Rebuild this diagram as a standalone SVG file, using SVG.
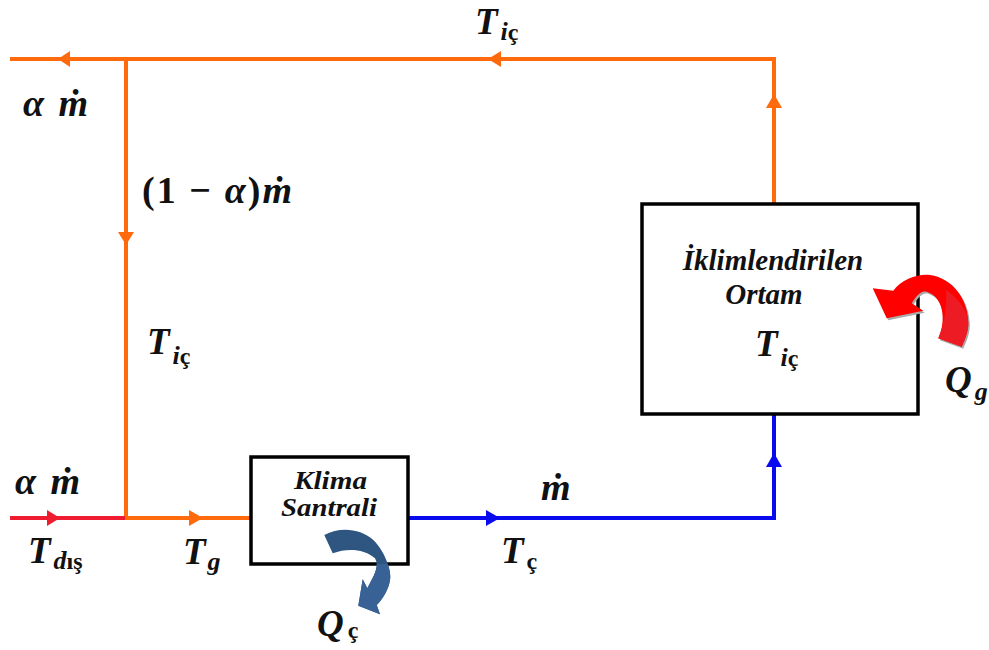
<svg xmlns="http://www.w3.org/2000/svg" width="989" height="650" viewBox="0 0 989 650">
<defs>
<clipPath id="below"><rect x="300" y="564" width="120" height="70"/></clipPath>
<path id="red" d="M872.7 288.3L893.3 290.7C901.7 278.3 920 273.3 930 275C953.3 278.3 968.3 300 968.3 323.3C968.3 331.7 965 340 961.7 346.7L938.3 338.3C946.7 320 943.3 296.7 926.7 291.7C920 290 915 298.3 911.7 303.3L923.3 310.7L886.7 318.3Z"/>
<path id="blue" d="M324.3 535C340 526.7 360 528.3 373.3 540C386.7 553.3 391.7 573.3 390 580C388.3 590 383.3 598.3 376.7 605L380 614.3L358.3 605.7L362.7 579.3L367.3 588.3C373.3 576.7 380 566.7 375 558.3C363.3 548.3 346.7 548.3 332.7 553.3Z"/>
</defs>
<style>
.c{fill:none;stroke-width:4}
.o{stroke:#ff6a0d}.r{stroke:#ee1c2e}.b{stroke:#0a0aee}
.box{fill:#fff;stroke:#000;stroke-width:3.5}
text{font-family:"Liberation Serif","DejaVu Serif",serif;font-weight:bold;font-style:italic;fill:#111}
.m{font-size:37px}.s{font-size:26px}.sn{font-size:24px;font-style:normal}
.l{font-size:29px}.l2{font-size:26px}.math{font-size:38px}
.up{font-style:normal}
</style>
<g id="connectors">
<path class="c o" d="M10 59H774V203"/>
<path class="c o" d="M126 59V518"/>
<path class="c r" d="M10 518H125"/>
<path class="c o" d="M125 518H250"/>
<path class="c b" d="M408 518H774V415"/>
<g fill="#ff6a0d">
<path d="M58 59L70 51V67Z"/>
<path d="M488 59L501 51V67Z"/>
<path d="M774 94L766 108H782Z"/>
<path d="M126 245L118 232H134Z"/>
<path d="M203 518L189 510V526Z"/>
</g>
<path d="M60 518L47 510V526Z" fill="#ee1c2e"/>
<path d="M500 518L486 510V526Z" fill="#0a0aee"/>
<path d="M774 453L766 467H782Z" fill="#0a0aee"/>
</g>
<g id="node-klima">
<rect class="box" x="251" y="457" width="157" height="107"/>
<text class="l2" x="294" y="489" textLength="73" lengthAdjust="spacingAndGlyphs">Klima</text>
<text class="l2" x="281" y="516" textLength="96" lengthAdjust="spacingAndGlyphs">Santrali</text>
</g>
<g id="node-ortam">
<rect class="box" x="642" y="204" width="276" height="210"/>
<text class="l" x="773" y="270" text-anchor="middle">İklimlendirilen</text>
<text class="l" x="764" y="304" text-anchor="middle">Ortam</text>
<text class="m" x="755" y="356">T<tspan class="s" dx="3" dy="10">i</tspan><tspan class="sn">ç</tspan></text>
</g>
<g id="arrow-qg">
<use href="#red" fill="#aaa" transform="translate(1.5 2)"/>
<use href="#red" fill="#ff0000"/>
<path d="M946 290C960 300 968.3 312 968.3 323.3C968.3 331.7 965 340 961.7 346.7L938.3 338.3C945 323 947 306 946 290Z" fill="#ed1c24"/>
</g>
<g id="arrow-qc">
<use href="#blue" fill="#2f5581"/>
<use href="#blue" fill="#386296" clip-path="url(#below)"/>
</g>
<g id="labels">
<text class="m" x="475" y="34">T<tspan class="s" dx="3" dy="6">i</tspan><tspan class="sn">ç</tspan></text>
<text class="m" x="147" y="354">T<tspan class="s" dx="3" dy="10">i</tspan><tspan class="sn">ç</tspan></text>
<text class="m" x="28" y="563">T<tspan class="s" dx="3" dy="6">d</tspan><tspan class="sn">ış</tspan></text>
<text class="m" x="183" y="564">T<tspan class="s" dx="2" dy="6">g</tspan></text>
<text class="m" x="501" y="563">T<tspan class="sn" dx="3" dy="6">ç</tspan></text>
<text class="m" x="317" y="636">Q<tspan class="sn" dx="4" dy="2">ç</tspan></text>
<text class="m" x="945" y="392">Q<tspan class="s" dx="3" dy="8">g</tspan></text>
<text class="math" x="23" y="116" textLength="65">α ṁ</text>
<text class="math" x="15" y="494" textLength="65">α ṁ</text>
<text class="math" x="142" y="203" textLength="150"><tspan class="up">(1 − </tspan>α<tspan class="up">)</tspan>ṁ</text>
<text class="math" x="541" y="500">ṁ</text>
</g>
</svg>
